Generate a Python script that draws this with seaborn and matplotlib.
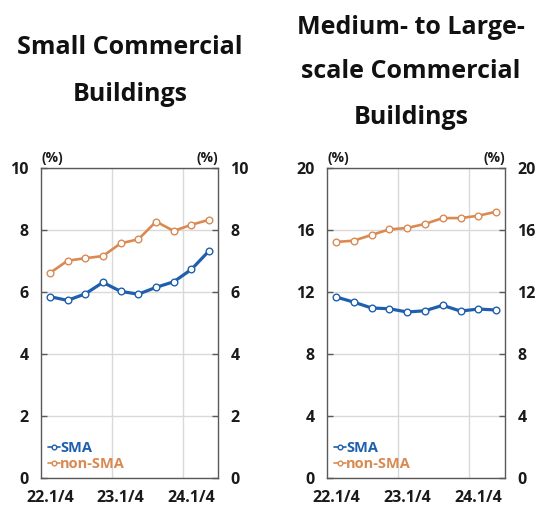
import matplotlib
matplotlib.use("Agg")
import matplotlib.pyplot as plt
import seaborn as sns
import pandas as pd

quarters = ["22.1/4", "22.2/4", "22.3/4", "22.4/4", "23.1/4", "23.2/4",
            "23.3/4", "23.4/4", "24.1/4", "24.2/4"]
tick_labels = ["22.1/4", "23.1/4", "24.1/4"]

small_sma = [5.85, 5.73, 5.94, 6.31, 6.02, 5.93, 6.15, 6.33, 6.73, 7.33]
small_non_sma = [6.61, 7.01, 7.09, 7.16, 7.57, 7.70, 8.27, 7.97, 8.17, 8.33]

large_sma = [11.68, 11.35, 10.97, 10.92, 10.71, 10.79, 11.14, 10.77, 10.90, 10.84]
large_non_sma = [15.23, 15.31, 15.68, 16.04, 16.13, 16.39, 16.77, 16.77, 16.92, 17.18]

series_names = ["SMA", "non-SMA"]
colors = {"SMA": "#1f5fad", "non-SMA": "#d98a52"}

sns.set_theme(style="white")
FONT = ["Open Sans", "DejaVu Sans"]
plt.rcParams["font.family"] = FONT
plt.rcParams["font.weight"] = "bold"

W, H = 538, 509
fig = plt.figure(figsize=(W / 100, H / 100), dpi=100)


def make_frame(sma, non_sma):
    rows = []
    for i, q in enumerate(quarters):
        rows.append({"idx": i, "quarter": q, "series": "SMA", "value": sma[i]})
        rows.append({"idx": i, "quarter": q, "series": "non-SMA", "value": non_sma[i]})
    return pd.DataFrame(rows)


def draw_panel(rect, sma, non_sma, ymax, ystep):
    ax = fig.add_axes(rect)
    df = make_frame(sma, non_sma)
    for name in series_names[::-1]:
        sub = df[df["series"] == name]
        sns.lineplot(data=sub, x="idx", y="value", ax=ax, color=colors[name],
                     linewidth=2.3 if name == "SMA" else 1.9,
                     marker="o", markersize=4.8, markerfacecolor="white",
                     markeredgecolor=colors[name], markeredgewidth=1.0,
                     label=name, legend=False)
    ax.set_xlim(-0.5, len(quarters) - 0.5)
    ax.set_ylim(0, ymax)
    yt = list(range(0, ymax + 1, ystep))
    ax.set_yticks(yt)
    ax.set_yticklabels([str(v) for v in yt])
    ax.set_xticks([quarters.index(t) for t in tick_labels])
    ax.set_xticklabels(tick_labels)
    ax.set_xticks([3.5, 7.5], minor=True)
    ax.set_xlabel("")
    ax.set_ylabel("")

    ax.grid(False)
    ax.yaxis.grid(True, color="#d9d9d9", linewidth=1.0)
    ax.xaxis.grid(True, which="minor", color="#d9d9d9", linewidth=1.0)
    ax.set_axisbelow(True)

    for s in ax.spines.values():
        s.set_color("#595959")
        s.set_linewidth(1.0)
        s.set_visible(True)

    ax.tick_params(axis="y", which="major", direction="in", length=4, width=1,
                   color="#595959", left=True, right=True, labelleft=True,
                   labelright=True, labelsize=11.5, pad=9)
    ax.tick_params(axis="x", which="both", length=0, labelsize=11.5, pad=9)
    for lab in ax.get_xticklabels() + ax.get_yticklabels():
        lab.set_fontweight("bold")
        lab.set_color("#1a1a1a")

    ax.text(0.0, 1.01, "(%)", transform=ax.transAxes, ha="left", va="bottom",
            fontsize=10, fontweight="bold", color="#1a1a1a")
    ax.text(1.0, 1.01, "(%)", transform=ax.transAxes, ha="right", va="bottom",
            fontsize=10, fontweight="bold", color="#1a1a1a")

    # legend with SMA listed first
    handles, labels = ax.get_legend_handles_labels()
    order = [labels.index(n) for n in series_names]
    leg = ax.legend([handles[i] for i in order], [labels[i] for i in order],
                    loc="lower left", bbox_to_anchor=(0.0, 0.0), frameon=False,
                    handlelength=0.8, handletextpad=0.0, labelspacing=0.1,
                    borderaxespad=0.2, borderpad=0.3, markerscale=0.7,
                    prop={"size": 10.5, "weight": "bold", "family": FONT})
    for text, name in zip(leg.get_texts(), series_names):
        text.set_color(colors[name])
    for h in leg.legend_handles:
        h.set_linewidth(1.2)
    return ax


bottom = (H - 478) / H
height = (478 - 168) / H
ax1 = draw_panel([41 / W, bottom, (218 - 41) / W, height], small_sma, small_non_sma, 10, 2)
ax2 = draw_panel([327 / W, bottom, (505 - 327) / W, height], large_sma, large_non_sma, 20, 4)

title_kw = dict(ha="center", va="center", fontsize=18, fontweight="bold", color="#111111")
fig.text(130 / W, 1 - 47 / H, "Small Commercial", **title_kw)
fig.text(130 / W, 1 - 95 / H, "Buildings", **title_kw)
fig.text(411 / W, 1 - 27 / H, "Medium- to Large-", **title_kw)
fig.text(411 / W, 1 - 72 / H, "scale Commercial", **title_kw)
fig.text(411 / W, 1 - 118 / H, "Buildings", **title_kw)

fig.savefig("out.png", dpi=100, facecolor="white")
